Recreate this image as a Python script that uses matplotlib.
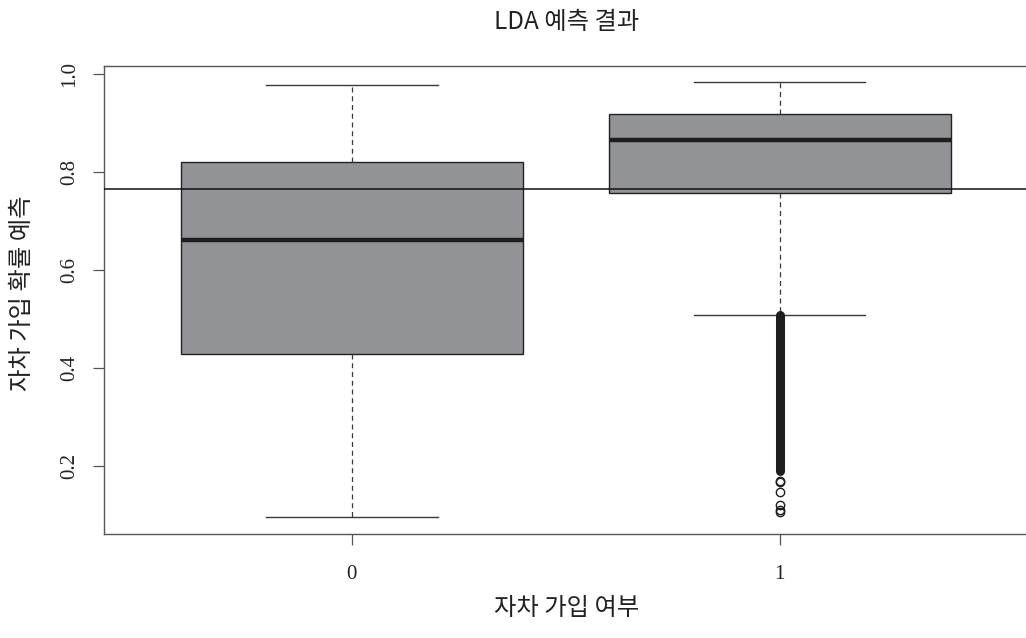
import matplotlib.pyplot as plt

plt.rcParams['font.family'] = ['Noto Sans CJK KR', 'DejaVu Sans']

# boxplot summary of LDA predicted probabilities per group
groups = ['0', '1']
q1 = [0.429, 0.757]
med = [0.661, 0.865]
q3 = [0.820, 0.918]
whislo = [0.096, 0.508]
whishi = [0.978, 0.984]
# isolated outliers for group 1, plus the densely packed run just below the whisker
fliers_sparse = [0.169, 0.167, 0.147, 0.120, 0.110, 0.107]
flier_run = (0.189, 0.508)
cutoff = 0.765

stats = []
for i, g in enumerate(groups):
    stats.append(dict(label=g, q1=q1[i], med=med[i], q3=q3[i],
                      whislo=whislo[i], whishi=whishi[i],
                      fliers=fliers_sparse if g == '1' else []))

fig = plt.figure(figsize=(10.26, 6.38), dpi=100)
ax = fig.add_axes([104 / 1026, 1 - 534 / 638, (1028 - 104) / 1026, (534 - 65.7) / 638])

line_col = '#3a3a3a'
ax.bxp(stats, positions=[1, 2], widths=0.8, patch_artist=True,
       boxprops=dict(facecolor='#929396', edgecolor='#222222', linewidth=1.0),
       medianprops=dict(color='#1e1e1e', linewidth=3.2),
       whiskerprops=dict(color=line_col, linewidth=0.9, linestyle=(0, (4, 3))),
       capprops=dict(color=line_col, linewidth=1.0),
       capwidths=0.4,
       flierprops=dict(marker='o', markersize=6, markerfacecolor='none',
                       markeredgecolor='#1e1e1e', markeredgewidth=1.0),
       zorder=2)

# dense outliers overlap into a solid column
ax.plot([2, 2], flier_run, color='#1e1e1e', linewidth=6.5,
        solid_capstyle='round', zorder=3)

ax.axhline(cutoff, color='#111111', linewidth=1.1, zorder=4)

ax.set_xlim(0.4206, 2.58)
ax.set_ylim(0.0612, 1.017)
ax.set_xticks([1, 2])
ax.set_xticklabels(groups)
ax.set_yticks([0.2, 0.4, 0.6, 0.8, 1.0])
ax.set_yticklabels(['0.2', '0.4', '0.6', '0.8', '1.0'], rotation=90, va='center')

for lab in ax.get_xticklabels() + ax.get_yticklabels():
    lab.set_family('Liberation Serif')
    lab.set_fontsize(15)
    lab.set_color('#222222')

ax.tick_params(axis='both', length=8, width=0.9, color='#555555', pad=14)
ax.tick_params(axis='y', pad=10)
for s in ax.spines.values():
    s.set_color('#555555')
    s.set_linewidth(1.0)

kr = dict(fontsize=17.5, color='#222222', fontweight='light')
fig.text(567 / 1026, 1 - 22 / 638, 'LDA 예측 결과', ha='center', va='center', **kr)
fig.text(567 / 1026, 1 - 608 / 638, '자차 가입 여부', ha='center', va='center', **kr)
fig.text(22 / 1026, 1 - 293 / 638, '자차 가입 확률 예측', ha='center', va='center',
         rotation=90, **kr)

fig.savefig('out.png', dpi=100, facecolor='white')
